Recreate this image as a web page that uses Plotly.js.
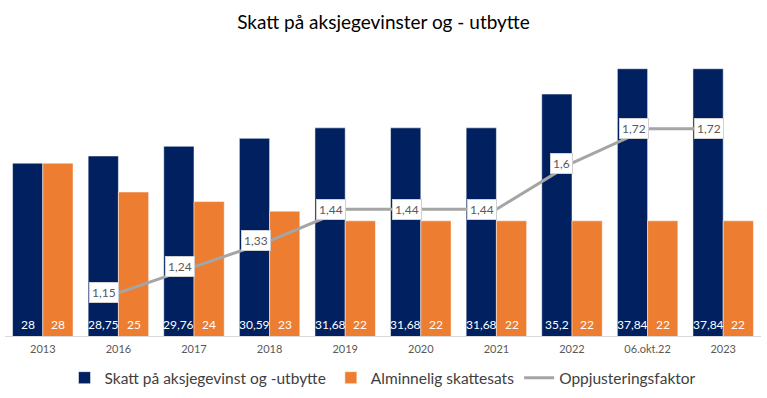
<!DOCTYPE html>
<html><head><meta charset="utf-8">
<script src="https://cdn.plot.ly/plotly-3.0.1.min.js"></script>
<style>html,body{margin:0;padding:0;background:#fff}#chart{width:767px;height:398px}</style>
</head><body><div id="chart"></div>
<script>
const categories = ["2013","2016","2017","2018","2019","2020","2021","2022","06.okt.22","2023"];
const skattAksje = [28, 28.75, 29.76, 30.59, 31.68, 31.68, 31.68, 35.2, 37.84, 37.84];
const alminnelig = [28, 25, 24, 23, 22, 22, 22, 22, 22, 22];
const oppjustering = [null, 1.15, 1.24, 1.33, 1.44, 1.44, 1.44, 1.6, 1.72, 1.72];

const fmt = v => String(v).replace('.', ',');
const font = "Lato, 'Open Sans', sans-serif";

const W = 767, H = 398, ML = 5, MR = 6, MT = 48, MB = 62;
const YMIN = 10, YMAX = 40;
const BARGAP = 0.2;
// half bar width in px, used to centre bottom labels in each bar of a group
const catPx = (W - ML - MR) / categories.length;
const halfBar = catPx * (1 - BARGAP) / 4;

const traces = [
  {type:'bar', name:'Skatt på aksjegevinst og -utbytte', x:categories, y:skattAksje,
   marker:{color:'#002060', line:{color:'#ffffff', width:0.5}}, hoverinfo:'skip'},
  {type:'bar', name:'Alminnelig skattesats', x:categories, y:alminnelig,
   marker:{color:'#ED7D31', line:{color:'#ffffff', width:0.5}}, hoverinfo:'skip'},
  {type:'scatter', mode:'lines', name:'Oppjusteringsfaktor', x:categories, y:oppjustering,
   yaxis:'y2', line:{color:'#A5A5A5', width:3}, connectgaps:false, hoverinfo:'skip'}
];

const annotations = [];
categories.forEach((c,i) => {
  annotations.push({x:i, y:YMIN, xref:'x', yref:'y', text:fmt(skattAksje[i]), showarrow:false,
    xshift:-halfBar, yanchor:'bottom', yshift:2, font:{color:'#ffffff', size:12, family:font}});
  annotations.push({x:i, y:YMIN, xref:'x', yref:'y', text:fmt(alminnelig[i]), showarrow:false,
    xshift:halfBar, yanchor:'bottom', yshift:2, font:{color:'#ffffff', size:12, family:font}});
  if (oppjustering[i] != null) {
    annotations.push({x:i, y:oppjustering[i], xref:'x', yref:'y2', text:fmt(oppjustering[i]), showarrow:false,
      xanchor:'right', yanchor:'middle', xshift:1,
      bgcolor:'#ffffff', bordercolor:'#D0D0D0', borderwidth:1, borderpad:2,
      font:{color:'#595959', size:12, family:font}});
  }
});

const layout = {
  width:W, height:H,
  margin:{l:ML, r:MR, t:MT, b:MB},
  paper_bgcolor:'#ffffff', plot_bgcolor:'#ffffff',
  title:{text:'Skatt på aksjegevinster og - utbytte', x:0.5, xanchor:'center', y:0.945, yanchor:'middle',
         font:{family:font, size:19, color:'#000000'}},
  barmode:'group', bargap:BARGAP, bargroupgap:0,
  xaxis:{type:'category', categoryorder:'array', categoryarray:categories, range:[-0.5, 9.5],
         showgrid:false, showline:true, linecolor:'#D9D9D9', linewidth:1,
         tickfont:{family:font, size:11, color:'#595959'}, ticks:'outside', ticklen:3, tickcolor:'rgba(0,0,0,0)', fixedrange:true},
  yaxis:{range:[YMIN,YMAX], visible:false, showgrid:false, fixedrange:true},
  yaxis2:{range:[1,2], overlaying:'y', side:'right', visible:false, showgrid:false, fixedrange:true},
  legend:{orientation:'h', x:0.5, xanchor:'center', yref:'container', y:0.05, yanchor:'middle',
          font:{family:font, size:15.5, color:'#404040'}, traceorder:'normal'},
  showlegend:true,
  annotations:annotations
};

Plotly.newPlot('chart', traces, layout, {displayModeBar:false, staticPlot:true});
</script></body></html>
